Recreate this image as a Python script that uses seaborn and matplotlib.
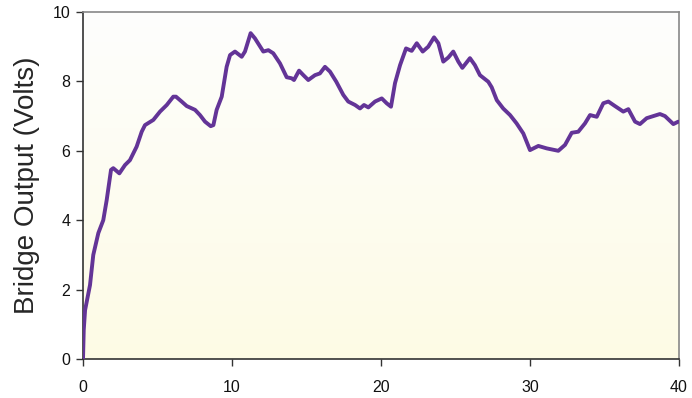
import numpy as np
import pandas as pd
import matplotlib
matplotlib.use("Agg")
import matplotlib.pyplot as plt
import seaborn as sns
from matplotlib.colors import LinearSegmentedColormap

time_s = [0, 0.05, 0.14, 0.47, 0.69, 1.03, 1.36, 1.59, 1.88, 2.03, 2.44, 2.82, 3.15, 3.6,
          3.94, 4.16, 4.72, 5.17, 5.62, 6.06, 6.24, 6.62, 6.96, 7.52, 7.85, 8.19, 8.57,
          8.75, 8.97, 9.31, 9.64, 9.87, 10.2, 10.65, 10.87, 11.25, 11.54, 12.1, 12.44,
          12.77, 13.22, 13.67, 14.0, 14.16, 14.5, 14.79, 15.12, 15.57, 15.9, 16.24,
          16.58, 17.0, 17.47, 17.8, 18.26, 18.59, 18.86, 19.15, 19.6, 20.05, 20.38,
          20.67, 20.94, 21.28, 21.68, 22.06, 22.4, 22.8, 23.17, 23.56, 23.85, 24.18,
          24.52, 24.85, 25.19, 25.46, 25.97, 26.3, 26.64, 27.2, 27.43, 27.77, 28.2,
          28.66, 29.1, 29.55, 30.0, 30.56, 31.12, 31.9, 32.35, 32.8, 33.24, 33.69,
          34.03, 34.48, 34.92, 35.26, 35.7, 36.26, 36.6, 37.05, 37.38, 37.83, 38.72,
          39.06, 39.62, 39.95]
output_v = [0, 0.84, 1.41, 2.13, 3.0, 3.63, 4.0, 4.58, 5.45, 5.5, 5.35, 5.59, 5.73, 6.12,
            6.55, 6.74, 6.89, 7.13, 7.32, 7.56, 7.56, 7.42, 7.29, 7.18, 7.03, 6.84, 6.71,
            6.74, 7.18, 7.56, 8.42, 8.76, 8.86, 8.71, 8.86, 9.39, 9.24, 8.86, 8.9,
            8.81, 8.52, 8.12, 8.09, 8.04, 8.31, 8.18, 8.04, 8.18, 8.23, 8.42,
            8.28, 7.99, 7.61, 7.42, 7.32, 7.22, 7.32, 7.25, 7.42, 7.51, 7.37,
            7.27, 7.95, 8.47, 8.95, 8.88, 9.1, 8.86, 9.0, 9.27, 9.1, 8.57,
            8.69, 8.86, 8.57, 8.39, 8.67, 8.47, 8.18, 7.99, 7.83, 7.46, 7.22,
            7.03, 6.79, 6.5, 6.02, 6.14, 6.07, 6.0, 6.17, 6.52, 6.55, 6.79,
            7.03, 6.98, 7.37, 7.42, 7.29, 7.13, 7.2, 6.84, 6.77, 6.94, 7.06,
            7.0, 6.77, 6.84]
x_ticks = [0, 10, 20, 30, 40]
y_ticks = [0, 2, 4, 6, 8, 10]

df = pd.DataFrame({"t": time_s, "v": output_v})

sns.set_style("white")
plt.rcParams["font.family"] = ["Liberation Sans", "DejaVu Sans"]

fig = plt.figure(figsize=(6.92, 3.98), dpi=100)
ax = fig.add_axes([83 / 692, 39 / 398, 596 / 692, 347 / 398])

# gradient background: white at top, pale yellow at bottom
cmap = LinearSegmentedColormap.from_list("bg", ["#fefefd", "#fdfbe5"])
grad = np.linspace(0, 1, 256).reshape(-1, 1)
ax.imshow(grad, extent=[0, 40, 0, 10], origin="upper", aspect="auto",
          cmap=cmap, zorder=0)

sns.lineplot(data=df, x="t", y="v", ax=ax, color="#633497", linewidth=2.8,
             zorder=3, solid_joinstyle="round", solid_capstyle="round")

ax.set_xlim(0, 40)
ax.set_ylim(0, 10)
ax.set_xticks(x_ticks)
ax.set_yticks(y_ticks)
ax.set_xlabel("")
ax.set_ylabel("Bridge Output (Volts)", fontsize=20, labelpad=9)
ax.tick_params(axis="both", which="both", direction="out", length=5, width=1,
               color="#333333", labelsize=11.5, labelcolor="#111111", pad=4,
               bottom=True, left=True)
ax.tick_params(axis="x", pad=10)
for side in ["left", "bottom"]:
    ax.spines[side].set_color("#333333")
    ax.spines[side].set_linewidth(1.2)
for side in ["top", "right"]:
    ax.spines[side].set_color("#888888")
    ax.spines[side].set_linewidth(1.2)
ax.grid(False)

fig.savefig("out.png", dpi=100)
